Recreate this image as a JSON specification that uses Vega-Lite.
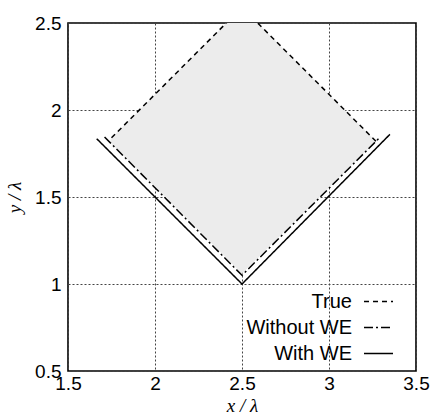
{
  "$schema": "https://vega.github.io/schema/vega-lite/v6.json",
  "width": 348,
  "height": 348,
  "autosize": {"type": "none"},
  "padding": {"left": 68, "top": 23, "right": 19, "bottom": 43},
  "background": "white",
  "config": {
    "view": {"stroke": "black", "strokeWidth": 1.6},
    "axis": {
      "labelFont": "Liberation Sans",
      "labelFontSize": 19,
      "labelColor": "black",
      "domain": false,
      "ticks": false,
      "grid": true,
      "gridColor": "#444",
      "gridDash": [2, 2],
      "gridWidth": 1,
      "gridOpacity": 1,
      "titleFont": "Liberation Serif",
      "titleFontStyle": "italic",
      "titleFontWeight": "normal",
      "titleFontSize": 19,
      "titleColor": "black"
    }
  },
  "datasets": {
    "shade": [
      {"x": 1.745, "top": 1.835, "bot": 1.81},
      {"x": 2.5, "top": 2.59, "bot": 1.06},
      {"x": 3.265, "top": 1.825, "bot": 1.815}
    ],
    "lines": [
      {"series": "True", "i": 1, "x": 1.75, "y": 1.84},
      {"series": "True", "i": 2, "x": 2.5, "y": 2.59},
      {"series": "True", "i": 3, "x": 3.27, "y": 1.82},
      {"series": "Without WE", "i": 1, "x": 1.71, "y": 1.845},
      {"series": "Without WE", "i": 2, "x": 2.5, "y": 1.05},
      {"series": "Without WE", "i": 3, "x": 3.29, "y": 1.84},
      {"series": "With WE", "i": 1, "x": 1.665, "y": 1.835},
      {"series": "With WE", "i": 2, "x": 2.5, "y": 1.0},
      {"series": "With WE", "i": 3, "x": 3.35, "y": 1.86}
    ]
  },
  "layer": [
    {
      "data": {"name": "shade"},
      "mark": {"type": "area", "clip": true, "color": "#ececec", "orient": "vertical"},
      "encoding": {
        "x": {"field": "x", "type": "quantitative", "scale": {"domain": [1.5, 3.5], "nice": false},
          "axis": {"values": [1.5, 2, 2.5, 3, 3.5], "format": "~g", "title": "x / λ", "labelPadding": 3, "titleY": 34, "titleBaseline": "middle", "labelFlush": false, "labelOverlap": false}},
        "y": {"field": "top", "type": "quantitative", "scale": {"domain": [0.5, 2.5], "nice": false},
          "axis": {"values": [0.5, 1, 1.5, 2, 2.5], "title": "y / λ", "labelPadding": 7, "titleX": -54, "titleY": 174, "titleAngle": -90, "titleBaseline": "middle", "titleAlign": "center", "labelFlush": false, "labelOverlap": false, "format": "~g"}},
        "y2": {"field": "bot"}
      }
    },
    {
      "data": {"name": "lines"},
      "mark": {"type": "line", "clip": true, "color": "black", "strokeWidth": 1.5},
      "encoding": {
        "x": {"field": "x", "type": "quantitative"},
        "y": {"field": "y", "type": "quantitative"},
        "order": {"field": "i"},
        "strokeDash": {
          "field": "series", "type": "nominal",
          "scale": {"domain": ["True", "Without WE", "With WE"], "range": [[5, 4], [9, 3, 2, 3], [1, 0]]},
          "legend": {
            "orient": "none", "legendX": 295, "legendY": 263, "title": null,
            "symbolType": "stroke", "symbolSize": 841, "symbolStrokeColor": "black", "symbolStrokeWidth": 1.5,
            "labelAlign": "right", "labelOffset": -42, "labelFont": "Liberation Sans", "labelFontSize": 20, "labelColor": "black",
            "rowPadding": 0, "labelLimit": 300
          }
        }
      }
    }
  ]
}
